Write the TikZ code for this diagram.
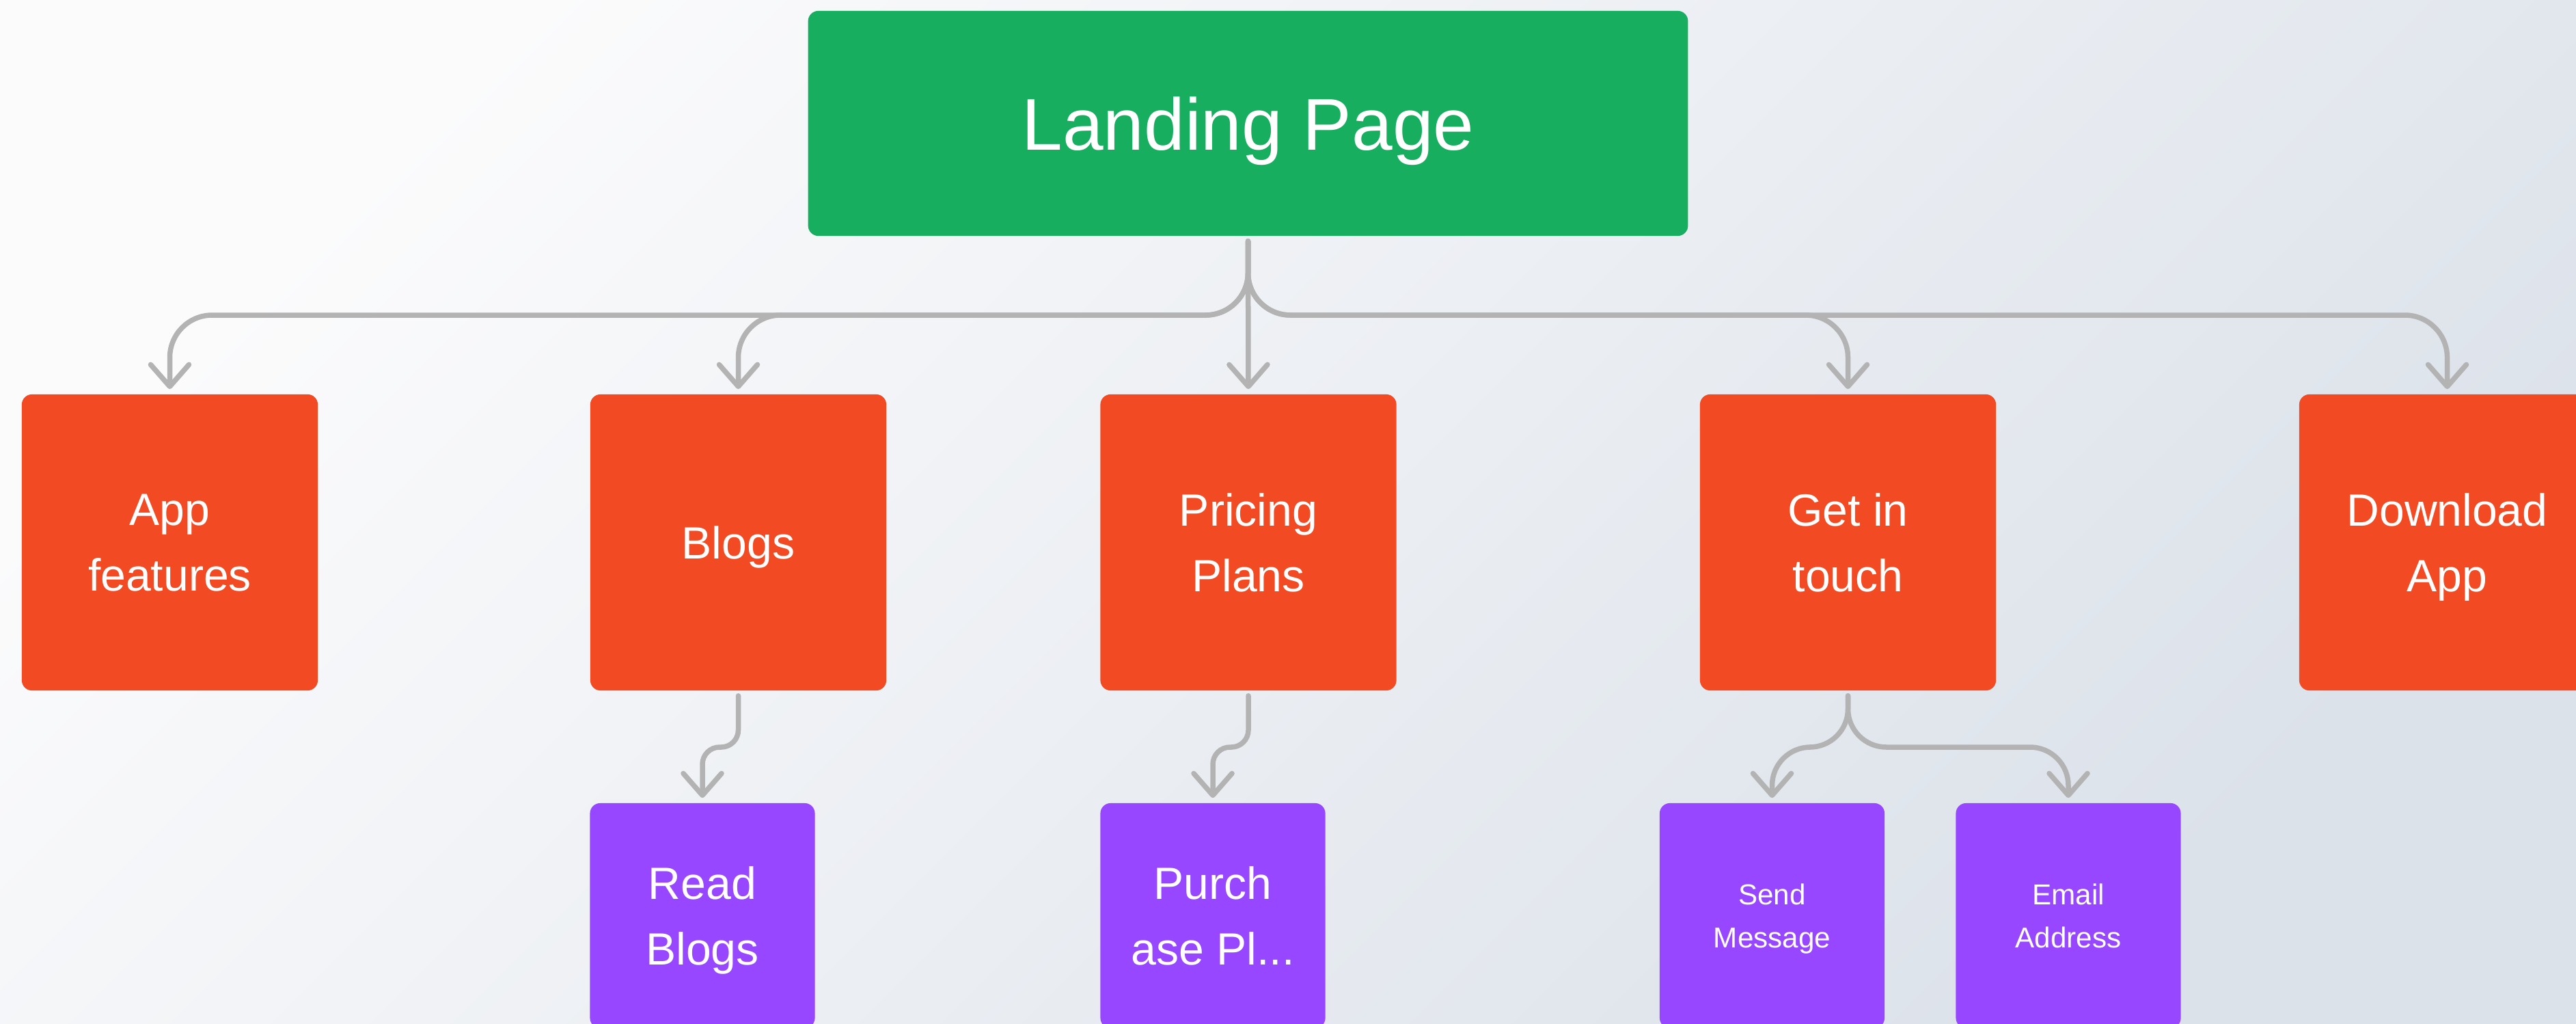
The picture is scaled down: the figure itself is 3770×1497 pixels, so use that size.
\documentclass[tikz,border=0pt]{standalone}
\usepackage{fontspec}
\setmainfont{Liberation Sans}
\usetikzlibrary{arrows.meta}
\definecolor{lpgreen}{HTML}{17AF5F}
\definecolor{lporange}{HTML}{F24A23}
\definecolor{lppurple}{HTML}{9747FF}
\definecolor{lpline}{HTML}{B3B3B3}
\definecolor{bgA}{HTML}{FBFBFC}
\definecolor{bgB}{HTML}{DCE2EA}
\begin{document}
\begin{tikzpicture}[x=0.01cm,y=-0.01cm,
 box/.style={rounded corners=0.15cm, inner sep=0pt, align=center, text=white, text depth=0pt},
 green box/.style={box, fill=lpgreen, minimum width=12.87cm, minimum height=3.29cm, font=\fontsize{30.5}{36}\selectfont},
 orange box/.style={box, fill=lporange, minimum width=4.33cm, minimum height=4.33cm, font=\fontsize{18.8}{27.3}\selectfont},
 purple box/.style={box, fill=lppurple, minimum width=3.29cm, minimum height=3.29cm, font=\fontsize{18.8}{27.3}\selectfont},
 small purple/.style={purple box, font=\fontsize{12}{17.9}\selectfont},
 conn/.style={draw=lpline, line width=0.075cm, line cap=round, -{Straight Barb[length=0.32cm, width=0.56cm, round]}},
 bus/.style={conn, rounded corners=0.62cm},
 sub/.style={conn, rounded corners=0.25cm},
 subwide/.style={conn, rounded corners=0.56cm},
]
\useasboundingbox (0,0) rectangle (3770,1497);
\clip (0,0) rectangle (3770,1497);
\shade[top color=bgA, bottom color=bgB, shading angle=45] (0,0) rectangle (3770,1497);

\node[green box] (landing) at (1826.5,180.5) {Landing Page};

\node[orange box] (app) at (248.5,793.5) {App\\features};
\node[orange box] (blogs) at (1080.5,793.5) {Blogs};
\node[orange box] (pricing) at (1827,793.5) {Pricing\\Plans};
\node[orange box] (touch) at (2704.5,793.5) {Get in\\touch};
\node[orange box] (download) at (3581.5,793.5) {Download\\App};

\node[purple box] (read) at (1028,1339.5) {Read\\Blogs};
\node[purple box] (purchase) at (1775,1339.5) {Purch\\ase Pl...};
\node[small purple] (send) at (2593.5,1339.5) {Send\\Message};
\node[small purple] (email) at (3027,1339.5) {Email\\Address};

\coordinate (busA) at (0,461);
\coordinate (busB) at (0,1093);

\draw[bus] ([yshift=-0.07cm]landing.south) -- (landing.south |- busA) -- (app.north |- busA) -- ([yshift=0.07cm]app.north);
\draw[bus] ([yshift=-0.07cm]landing.south) -- (landing.south |- busA) -- (blogs.north |- busA) -- ([yshift=0.07cm]blogs.north);
\draw[conn] ([yshift=-0.07cm]landing.south) -- ([yshift=0.07cm]pricing.north);
\draw[bus] ([yshift=-0.07cm]landing.south) -- (landing.south |- busA) -- (touch.north |- busA) -- ([yshift=0.07cm]touch.north);
\draw[bus] ([yshift=-0.07cm]landing.south) -- (landing.south |- busA) -- (download.north |- busA) -- ([yshift=0.07cm]download.north);

\draw[sub] ([yshift=-0.07cm]blogs.south) -- (blogs.south |- busB) -- (read.north |- busB) -- ([yshift=0.07cm]read.north);
\draw[sub] ([yshift=-0.07cm]pricing.south) -- (pricing.south |- busB) -- (purchase.north |- busB) -- ([yshift=0.07cm]purchase.north);
\draw[subwide] ([yshift=-0.07cm]touch.south) -- (touch.south |- busB) -- (send.north |- busB) -- ([yshift=0.07cm]send.north);
\draw[subwide] ([yshift=-0.07cm]touch.south) -- (touch.south |- busB) -- (email.north |- busB) -- ([yshift=0.07cm]email.north);
\end{tikzpicture}
\end{document}
